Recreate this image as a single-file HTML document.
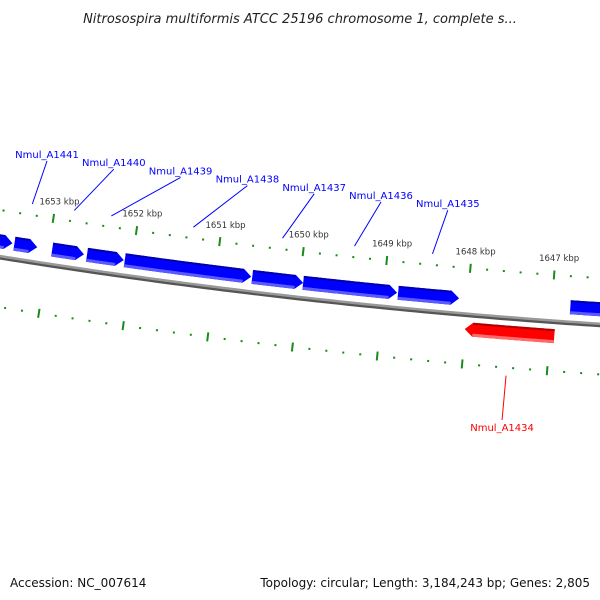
<!DOCTYPE html>
<html><head><meta charset="utf-8"><style>
html,body{margin:0;padding:0;background:#fff;}
svg{display:block;font-family:"DejaVu Sans","Liberation Sans",sans-serif;}
</style></head><body>
<svg id="chart" width="600" height="600" viewBox="0 0 600 600">
<text x="300" y="23" text-anchor="middle" font-size="13" font-style="italic" fill="#222">Nitrosospira multiformis ATCC 25196 chromosome 1, complete s...</text>
<g id="ticks"></g>
<g id="backbone"></g>
<g id="genes"></g>
<g id="labels"></g>
<text x="10" y="587" font-size="12" fill="#111">Accession: NC_007614</text>
<text x="590" y="587" text-anchor="end" font-size="12" fill="#111">Topology: circular; Length: 3,184,243 bp; Genes: 2,805</text>
</svg>
<script>
const geneNames = ["", "Nmul_A1441", "Nmul_A1440", "Nmul_A1439", "Nmul_A1438", "Nmul_A1437", "Nmul_A1436", "Nmul_A1435", "", "Nmul_A1434"];
const geneStartBp = [1653800, 1653411, 1652958, 1652541, 1652089, 1650566, 1649959, 1648828, 1646781, 1648005];
const geneEndBp   = [1653434, 1653137, 1652577, 1652101, 1650578, 1649959, 1648840, 1648102, 1646200, 1646946];
const geneStrand  = [1, 1, 1, 1, 1, 1, 1, 1, 1, -1];
const tickMin = 1645000, tickMax = 1655000, tickMinor = 200, tickMajor = 1000;

const NS = "http://www.w3.org/2000/svg";
const CX = 1020, CY = -6092, R = 6430;
const PHI0 = -0.152, REF_BP = 1653000, RAD_PER_BP = 0.01316 / 1000;
function ang(bp){ return PHI0 + (REF_BP - bp) * RAD_PER_BP; }
function pt(bp, r){ const a = ang(bp); return [CX + r*Math.sin(a), CY + r*Math.cos(a)]; }
function mk(tag, attrs, parent){ const e = document.createElementNS(NS, tag); for (const k in attrs) e.setAttribute(k, attrs[k]); parent.appendChild(e); return e; }
function ps(a){ return a.map(p=>p[0].toFixed(2)+","+p[1].toFixed(2)).join(" "); }

// backbone
const bb = document.getElementById('backbone');
function arcPath(r){ let d=""; for(let bp=tickMax; bp>=tickMin; bp-=100){ const p=pt(bp,r); d+=(d?"L":"M")+p[0].toFixed(2)+","+p[1].toFixed(2);} return d; }
const bbShadow = mk('path',{d:arcPath(R+1.5),stroke:'#555',"stroke-width":3,fill:'none'},bb);


const bbLine = mk('path',{d:arcPath(R-0.5),stroke:'#999',"stroke-width":2.5,fill:'none'},bb);



// ticks
const tg = document.getElementById('ticks');
for (let bp = tickMin; bp <= tickMax; bp += tickMinor){
  const major = (bp % tickMajor) === 0;
  [R-46, R+50].forEach((r, ri) => {
    const len = major ? 4.5 : 1;
    const a = pt(bp, r - len), b = pt(bp, r + len);
    const l = mk('line',{x1:a[0],y1:a[1],x2:b[0],y2:b[1],stroke:'#1a8a1a',"stroke-width":2},tg);
    
    
    if (major && ri === 0){
      const p = pt(bp, R-60);
      const t = mk('text',{x:p[0]+4,y:p[1],"text-anchor":"middle","font-size":8.5,fill:'#333'},tg);
      t.textContent = (bp/1000) + " kbp";
      
      
    }
  });
}

// genes
const gg = document.getElementById('genes');
const lg = document.getElementById('labels');
const HEAD = 95; // bp length of arrow head
for (let i = 0; i < geneStartBp.length; i++){
  const s = geneStartBp[i], e = geneEndBp[i], st = geneStrand[i];
  const rIn = st > 0 ? R-8 : R+8, rOut = st > 0 ? R-22 : R+22, rMid = (rIn+rOut)/2;
  const hi = Math.max(s,e), lo = Math.min(s,e);
  const hl = Math.min(HEAD, (hi-lo)*0.5);
  let pts = [], bodyA, bodyB;
  if (st > 0){
    bodyA = hi; bodyB = lo + hl;
    for (let k=0;k<=20;k++) pts.push(pt(bodyA+(bodyB-bodyA)*k/20, rOut));
    pts.push(pt(lo, rMid));
    for (let k=20;k>=0;k--) pts.push(pt(bodyA+(bodyB-bodyA)*k/20, rIn));
  } else {
    bodyA = hi - hl; bodyB = lo;
    pts.push(pt(hi, rMid));
    for (let k=0;k<=20;k++) pts.push(pt(bodyA+(bodyB-bodyA)*k/20, rOut));
    for (let k=20;k>=0;k--) pts.push(pt(bodyA+(bodyB-bodyA)*k/20, rIn));
  }
  const col = st > 0 ? '#0000ff' : '#ff0000';
  const poly = mk('polygon',{points:ps(pts),fill:col},gg);
  
  
  const edgeLow = [], edgeHigh = [];
  for (let k=0;k<=20;k++){ const bp = bodyA + (bodyB-bodyA)*k/20; edgeLow.push(pt(bp, Math.max(rIn,rOut)-1.5)); edgeHigh.push(pt(bp, Math.min(rIn,rOut)+1)); }
  const el = mk('polyline',{points:ps(edgeLow),stroke:st>0?'#5a5aff':'#ff6a6a',"stroke-width":3,fill:'none'},gg);
  
  
  const eh = mk('polyline',{points:ps(edgeHigh),stroke:st>0?'#0000b0':'#b00000',"stroke-width":2,fill:'none'},gg);
  
  

  if (geneNames[i]){
    const mid = (s+e)/2;
    let base, lx, ly, ty;
    if (st > 0){
      base = pt(mid, R-57);
      const idx = i - 1;
      lx = 47 + idx*66.8; ly = 158 + idx*8.2;
      ty = ly + 3;
    } else {
      base = pt(mid, R+58);
      lx = base[0] - 4; ly = 431; ty = ly - 11;
    }
    const ln = mk('line',{x1:base[0],y1:base[1],x2:lx,y2:ty,stroke:col,"stroke-width":1},lg);
    
    
    const t = mk('text',{x:lx,y:ly,"text-anchor":"middle","font-size":10,fill:col},lg);
    t.textContent = geneNames[i];
    
    
  }
}
</script>
</body></html>
